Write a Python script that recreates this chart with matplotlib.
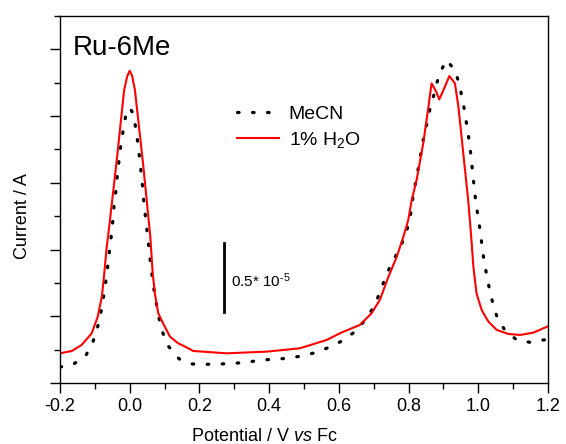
import matplotlib
matplotlib.use("Agg")
import matplotlib.pyplot as plt
from matplotlib.ticker import MultipleLocator

plt.rcParams['font.family'] = ['Liberation Sans', 'DejaVu Sans']
plt.rcParams['mathtext.fontset'] = 'custom'
plt.rcParams['mathtext.rm'] = 'Liberation Sans'
plt.rcParams['mathtext.it'] = 'Liberation Sans:italic'

# 1% H2O (red, solid)
h2o_x = [-0.200, -0.166, -0.138, -0.109, -0.092, -0.080, -0.073, -0.066, -0.062, -0.038,
         -0.016, -0.007, 0.000, 0.007, 0.015, 0.038, 0.059, 0.066, 0.0725, 0.082,
         0.096, 0.1155, 0.139, 0.159, 0.182, 0.278, 0.393, 0.488, 0.565, 0.605,
         0.660, 0.694, 0.718, 0.742, 0.766, 0.785, 0.799, 0.809, 0.823, 0.842,
         0.857, 0.866, 0.879, 0.888, 0.900, 0.917, 0.933, 0.943, 0.952, 0.962,
         0.971, 0.979, 0.986, 0.995, 1.010, 1.029, 1.053, 1.086, 1.120, 1.158, 1.200]
h2o_y = [0.445, 0.48, 0.57, 0.745, 0.99, 1.29, 1.64, 2.04, 2.20, 3.30,
         4.39, 4.60, 4.68, 4.60, 4.39, 3.30, 2.20, 1.64, 1.33, 1.045,
         0.89, 0.695, 0.595, 0.545, 0.48, 0.445, 0.47, 0.52, 0.645, 0.75,
         0.87, 1.045, 1.25, 1.59, 1.89, 2.19, 2.44, 2.74, 3.04, 3.59,
         4.14, 4.49, 4.37, 4.25, 4.39, 4.60, 4.49, 4.14, 3.69, 3.19,
         2.74, 2.24, 1.74, 1.34, 1.09, 0.92, 0.795, 0.735, 0.72, 0.755, 0.85]

# MeCN (black, dotted)
mecn_x = [-0.200, -0.165, -0.126, -0.106, -0.093, -0.084, -0.077, -0.071, -0.066, -0.061,
          -0.057, -0.052, -0.048, -0.045, -0.040, -0.0365, -0.032, -0.028, -0.022, -0.016,
          -0.0087, 0.001, 0.0114, 0.017, 0.023, 0.0275, 0.032, 0.036, 0.039, 0.043,
          0.0476, 0.0515, 0.056, 0.060, 0.065, 0.0705, 0.077, 0.084, 0.0946, 0.111,
          0.142, 0.180, 0.221, 0.260, 0.297, 0.337, 0.376, 0.414, 0.452, 0.493,
          0.532, 0.572, 0.611, 0.649, 0.682, 0.704, 0.720, 0.734, 0.751, 0.772,
          0.790, 0.801, 0.809, 0.813, 0.821, 0.828, 0.835, 0.842, 0.850, 0.858,
          0.869, 0.879, 0.890, 0.909, 0.934, 0.945, 0.954, 0.961, 0.967, 0.973,
          0.978, 0.982, 0.986, 0.990, 0.995, 1.001, 1.007, 1.011, 1.017, 1.024,
          1.032, 1.041, 1.053, 1.074, 1.110, 1.148, 1.186, 1.200]
mecn_y = [0.24, 0.27, 0.41, 0.61, 0.82, 1.02, 1.23, 1.43, 1.63, 1.83,
          2.04, 2.24, 2.46, 2.66, 2.86, 3.06, 3.27, 3.47, 3.68, 3.88,
          4.08, 4.12, 4.02, 3.82, 3.61, 3.41, 3.19, 2.99, 2.79, 2.59,
          2.38, 2.19, 1.98, 1.78, 1.57, 1.37, 1.17, 0.97, 0.755, 0.55,
          0.36, 0.285, 0.28, 0.285, 0.295, 0.31, 0.345, 0.355, 0.37, 0.405,
          0.455, 0.535, 0.635, 0.78, 0.985, 1.18, 1.39, 1.59, 1.79, 1.99,
          2.20, 2.40, 2.62, 2.82, 3.02, 3.22, 3.43, 3.64, 3.83, 4.04,
          4.24, 4.46, 4.65, 4.84, 4.68, 4.48, 4.27, 4.07, 3.86, 3.66,
          3.45, 3.25, 3.05, 2.84, 2.64, 2.43, 2.23, 2.03, 1.82, 1.62,
          1.41, 1.21, 1.00, 0.81, 0.645, 0.61, 0.645, 0.65]

xticks = [-0.2, 0.0, 0.2, 0.4, 0.6, 0.8, 1.0, 1.2]
xticklabels = ['-0.2', '0.0', '0.2', '0.4', '0.6', '0.8', '1.0', '1.2']

fig = plt.figure(figsize=(5.66, 4.44), dpi=100)
ax = fig.add_axes([60/566, 61/444, 488/566, 367/444])

ax.plot(mecn_x, mecn_y, color='black', linewidth=2.3,
        linestyle=(0, (0.5, 4.2)), dash_capstyle='round', label='MeCN')
ax.plot(h2o_x, h2o_y, color='#ff0000', linewidth=1.5, label='1% H$_2$O')

ax.set_xlim(-0.2, 1.2)
ax.set_ylim(0, 5.5)
ax.set_xticks(xticks)
ax.set_xticklabels(xticklabels)
ax.xaxis.set_minor_locator(MultipleLocator(0.1))
ax.yaxis.set_major_locator(MultipleLocator(1.0))
ax.yaxis.set_minor_locator(MultipleLocator(0.5))
ax.set_yticklabels([])
ax.tick_params(which='major', direction='out', length=7, width=1, labelsize=13, pad=4)
ax.tick_params(which='minor', direction='out', length=4, width=1)
ax.tick_params(top=False, right=False, which='both')
for s in ax.spines.values():
    s.set_linewidth(1.0)

ax.set_xlabel('Potential / V $\\it{vs}$ Fc', fontsize=13)
ax.xaxis.set_label_coords(0.418, -0.123)
ax.xaxis.label.set_va('top')
ax.set_ylabel('Current / A', fontsize=13)
ax.yaxis.set_label_coords(-0.06, 0.455)

ax.text(0.026, 0.894, 'Ru-6Me', transform=ax.transAxes, fontsize=20,
        va='baseline', ha='left')

# scale bar
ax.plot([0.27, 0.27], [1.065, 2.10], color='black', linewidth=2)
ax.text(0.291, 1.53, '0.5* 10$^{\\text{-5}}$', fontsize=11, va='center', ha='left')

ax.legend(loc='upper left', bbox_to_anchor=(0.363, 0.757), frameon=False,
          fontsize=14, handlelength=2.15, handletextpad=0.5, labelspacing=0.35,
          borderaxespad=0, borderpad=0)

fig.savefig('out.png', dpi=100)
